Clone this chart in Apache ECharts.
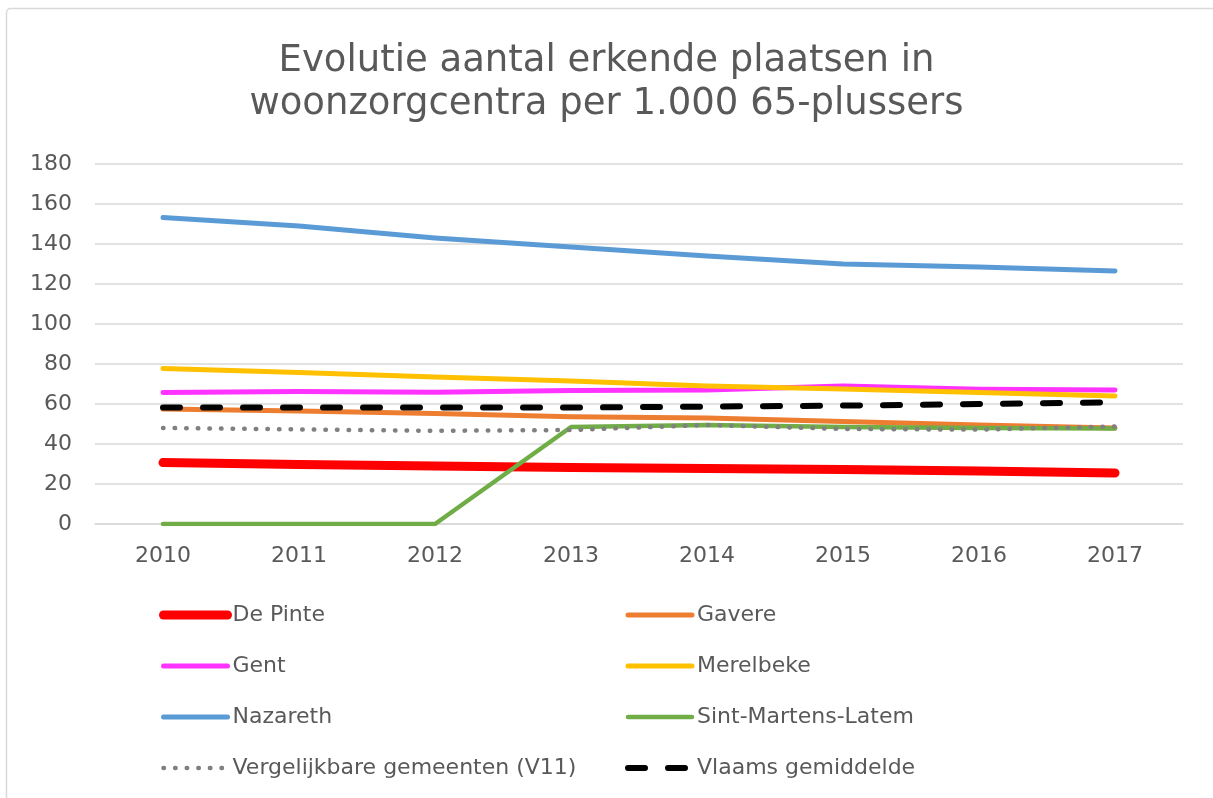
<!DOCTYPE html>
<html>
<head>
<meta charset="utf-8">
<script src="https://cdn.jsdelivr.net/npm/echarts@6/dist/echarts.min.js"></script>
<style>
html,body{margin:0;padding:0;background:#fff;}
#c{width:1213px;height:798px;}
</style>
</head>
<body>
<div id="c"></div>
<script>
const categories = ['2010','2011','2012','2013','2014','2015','2016','2017'];
const dePinte = [30.7, 29.8, 29.0, 28.3, 27.8, 27.2, 26.5, 25.5];
const gavere = [57.5, 56.5, 55.3, 53.6, 53.0, 51.2, 49.5, 48.0];
const gent = [65.8, 66.3, 65.9, 66.7, 67.0, 69.0, 67.4, 67.0];
const merelbeke = [77.8, 75.8, 73.5, 71.5, 69.0, 67.5, 65.8, 64.0];
const nazareth = [153.3, 149.0, 143.0, 138.5, 134.0, 130.0, 128.5, 126.5];
const sintMartensLatem = [0, 0, 0, 48.5, 49.5, 48.5, 48.0, 47.8];
const vergelijkbare = [48.0, 47.3, 46.6, 47.0, 49.5, 47.5, 47.2, 48.8];
const vlaams = [58.3, 58.3, 58.2, 58.2, 58.7, 59.2, 60.0, 60.8];
const yTicks = [0, 20, 40, 60, 80, 100, 120, 140, 160, 180];

const FONT = '"DejaVu Sans", Verdana, sans-serif';
const TXT = '#595959';

const seriesDefs = [
  {name:'De Pinte', data:dePinte, color:'#FF0000', width:9, type:'solid'},
  {name:'Gavere', data:gavere, color:'#ED7D31', width:5, type:'solid'},
  {name:'Gent', data:gent, color:'#FF33FF', width:5, type:'solid'},
  {name:'Merelbeke', data:merelbeke, color:'#FFC000', width:5, type:'solid'},
  {name:'Nazareth', data:nazareth, color:'#5B9BD5', width:5, type:'solid'},
  {name:'Sint-Martens-Latem', data:sintMartensLatem, color:'#70AD47', width:4.5, type:'solid'},
  {name:'Vergelijkbare gemeenten (V11)', data:vergelijkbare, color:'#808080', width:4.5, type:[0.5, 11.1]},
  {name:'Vlaams gemiddelde', data:vlaams, color:'#000000', width:6, type:[17, 23]}
];

function legendItem(d){
  return {
    name:d.name,
    itemStyle:{opacity:0},
    lineStyle:{width:d.width, type:d.type, cap:'round', color:d.color}
  };
}
const byName = {};
seriesDefs.forEach(d => byName[d.name] = d);

const legendCommon = {
  orient:'vertical',
  top:602,
  padding:0,
  itemWidth:64,
  itemHeight:10,
  itemGap:25,
  textStyle:{fontFamily:FONT, fontSize:22, color:TXT, lineHeight:26, padding:[0,0,0,0]}
};

const chart = echarts.init(document.getElementById('c'), null, {renderer:'canvas'});
chart.setOption({
  animation:false,
  backgroundColor:'#fff',
  graphic:[{
    type:'rect', z:-10,
    shape:{x:6.5, y:8.5, width:1220, height:800, r:4},
    style:{fill:'none', stroke:'#d9d9d9', lineWidth:1.5}
  }],
  title:{
    text:'Evolutie aantal erkende plaatsen in\nwoonzorgcentra per 1.000 65-plussers',
    left:'center', top:40, padding:[0,0,0,10],
    textStyle:{fontFamily:FONT, fontSize:37, fontWeight:'normal', color:TXT, lineHeight:43}
  },
  legend:[
    Object.assign({}, legendCommon, {left:159,
      data:['De Pinte','Gent','Nazareth','Vergelijkbare gemeenten (V11)'].map(n=>legendItem(byName[n]))}),
    Object.assign({}, legendCommon, {left:625,
      data:['Gavere','Merelbeke','Sint-Martens-Latem','Vlaams gemiddelde'].map(n=>legendItem(byName[n]))})
  ],
  grid:{left:95, right:30, top:164, bottom:274, containLabel:false},
  xAxis:{
    type:'category', data:categories, boundaryGap:true,
    axisLine:{show:true, lineStyle:{color:'#d9d9d9', width:1.5}},
    axisTick:{show:false},
    axisLabel:{fontFamily:FONT, fontSize:22, color:TXT, margin:21}
  },
  yAxis:{
    type:'value', min:yTicks[0], max:yTicks[yTicks.length-1], interval:20,
    axisLine:{show:false}, axisTick:{show:false},
    axisLabel:{fontFamily:FONT, fontSize:22, color:TXT, margin:23},
    splitLine:{lineStyle:{color:'#d9d9d9', width:1.5}}
  },
  series: seriesDefs.map((d,i)=>({
    name:d.name, type:'line', data:d.data, symbol:'none', z:2+i,
    lineStyle:{color:d.color, width:d.width, type:d.type, cap:'round', join:'round'},
    itemStyle:{color:d.color}
  }))
});
</script>
</body>
</html>
